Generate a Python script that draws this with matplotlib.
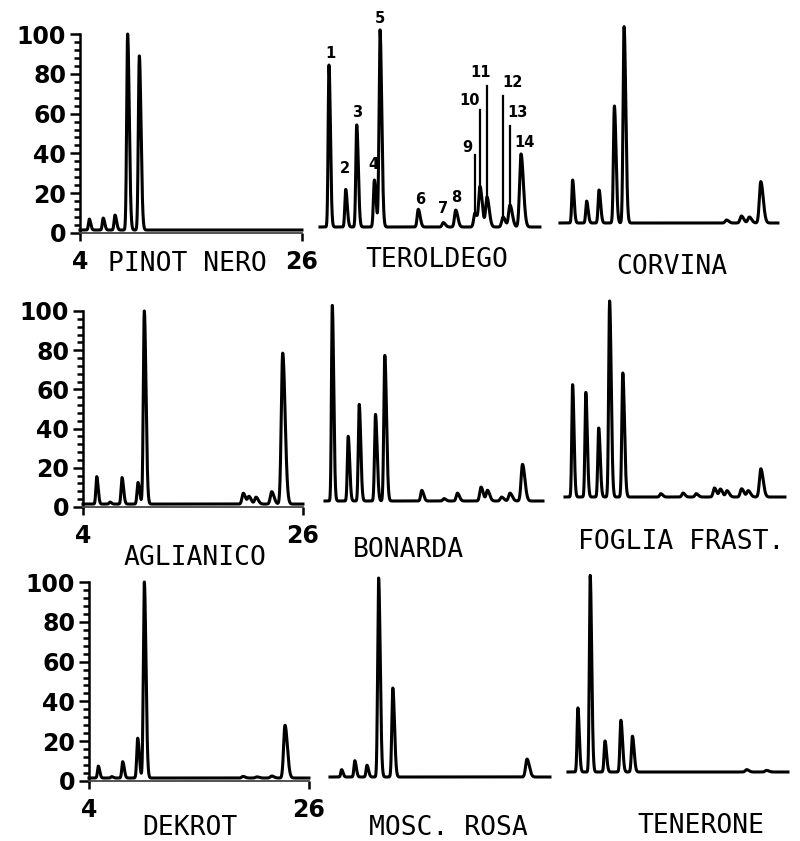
import matplotlib
matplotlib.use('Agg')
import matplotlib.pyplot as plt
import numpy as np

# retention times (min) and peak heights (% of largest peak)
names = ['PINOT NERO', 'TEROLDEGO', 'CORVINA',
         'AGLIANICO', 'BONARDA', 'FOGLIA FRAST.',
         'DEKROT', 'MOSC. ROSA', 'TENERONE']

pinot_t = [4.92, 6.30, 7.47, 8.72, 9.88]
pinot_h = [5.5, 6.0, 7.5, 98.5, 87.5]

terol_t = [4.89, 6.55, 7.64, 9.39, 9.95, 13.74, 16.22, 17.45, 19.36, 19.86, 20.55, 22.14, 22.83, 23.92]
terol_h = [81.4, 18.9, 51.3, 23.6, 99.0, 8.9, 2.2, 8.5, 7.0, 20.0, 15.0, 5.0, 11.0, 36.7]

corv_t = [5.25, 6.64, 7.87, 9.39, 10.35, 20.50, 21.98, 22.76, 23.90]
corv_h = [21.6, 11.0, 16.6, 58.8, 98.7, 1.5, 3.5, 3.0, 20.8]

agli_t = [5.37, 6.70, 7.90, 9.50, 10.13, 20.03, 20.60, 21.30, 22.87, 23.97]
agli_h = [14.0, 1.0, 13.5, 11.0, 98.5, 5.5, 3.8, 3.5, 6.3, 77.0]

bona_t = [4.73, 6.32, 7.42, 9.05, 9.98, 13.68, 15.90, 17.24, 19.60, 20.25, 21.66, 22.50, 23.75]
bona_h = [99.8, 33.0, 49.3, 44.2, 74.3, 5.4, 1.2, 4.0, 7.1, 5.4, 2.0, 4.0, 18.7]

fogl_t = [4.76, 6.08, 7.37, 8.46, 9.78, 13.58, 15.80, 17.12, 18.94, 19.54, 20.20, 21.66, 22.32, 23.58]
fogl_h = [57.3, 53.4, 35.2, 100.0, 63.3, 1.7, 2.0, 1.7, 4.6, 4.0, 3.2, 4.2, 3.2, 14.4]

dekr_t = [4.93, 6.27, 7.37, 8.87, 9.53, 19.40, 20.77, 22.27, 23.60]
dekr_h = [6.0, 0.7, 8.2, 20.0, 98.5, 0.8, 0.6, 1.0, 26.5]

mosc_t = [5.16, 6.48, 7.70, 8.86, 10.28, 23.70]
mosc_h = [3.7, 8.2, 5.9, 100.0, 44.7, 9.0]

tene_t = [4.99, 6.22, 7.70, 9.29, 10.44, 21.86, 23.85]
tene_h = [32.2, 98.8, 15.6, 26.0, 18.0, 1.2, 0.8]

peak_t = [pinot_t, terol_t, corv_t, agli_t, bona_t, fogl_t, dekr_t, mosc_t, tene_t]
peak_h = [pinot_h, terol_h, corv_h, agli_h, bona_h, fogl_h, dekr_h, mosc_h, tene_h]
t_end = [26.0, 25.8, 25.6, 26.0, 25.8, 26.0, 26.0, 26.0, 26.0]
base = [1.5, 0, 0, 1.5, 0, 0, 1.5, 0, 0]

# Teroldego peak numbering
terol_lab = [str(i) for i in range(1, 15)]
terol_lab_t = [4.99, 6.48, 7.67, 9.25, 9.95, 13.91, 16.19, 17.48, 18.60, 18.87, 19.96, 23.08, 23.57, 24.30]
terol_lab_y = [87.4, 29.6, 57.3, 31.2, 105.0, 13.6, 9.5, 15.0, 40.2, 63.8, 77.4, 72.4, 57.3, 42.7]
# leader lines: peak index, top of line (%)
lead_idx = [8, 9, 10, 11, 12]
lead_top = [36.0, 59.0, 71.0, 66.0, 51.0]

yticks = [0, 20, 40, 60, 80, 100]

W, H = 800, 841
fig = plt.figure(figsize=(8, 8.41), dpi=100)

# panel frames in pixels: x of t=4, px per min, y of baseline, px per %
frames = [(80, 10.09, 233, 1.99), (320, 10.09, 227, 1.99), (560, 10.09, 223, 1.99),
          (83, 10.0, 507, 1.96), (325, 10.0, 501, 1.96), (565, 10.0, 497, 1.96),
          (89, 10.0, 781, 1.99), (330, 10.0, 777, 1.99), (568, 10.0, 772, 1.99)]
# name labels: centre x, baseline y (pixels)
name_pos = [(187, 271), (437, 267), (672, 274),
            (195, 565), (408, 557), (681, 549),
            (190, 835), (448, 835), (701, 833)]


def trace(t, pt, ph):
    y = np.zeros_like(t)
    for tc, hc in zip(pt, ph):
        sl = 0.08 + 0.003 * (tc - 4)
        s = np.where(t < tc, sl, 1.7 * sl)
        y += hc * np.exp(-0.5 * ((t - tc) / s) ** 2)
    return y


for i in range(9):
    x0, sx, yb, sy = frames[i]
    ax = fig.add_axes([x0 / W, 1 - yb / H, 22 * sx / W, 100 * sy / H])
    ax.set_xlim(4, 26)
    ax.set_ylim(0, 100)
    t = np.arange(4, t_end[i], 0.004)
    ax.plot(t, base[i] + trace(t, peak_t[i], peak_h[i]), color='black', lw=2.2,
            clip_on=False, solid_joinstyle='round')

    if i % 3 == 0:
        ax.spines['top'].set_visible(False)
        ax.spines['right'].set_visible(False)
        ax.spines['left'].set_linewidth(1.8)
        ax.spines['bottom'].set_linewidth(1.3)
        ax.spines['bottom'].set_color('#444444')
        ax.set_yticks(yticks)
        ax.set_yticks(np.arange(0, 101, 4), minor=True)
        ax.set_yticklabels([str(v) for v in yticks], fontfamily='DejaVu Sans',
                           fontweight='bold', fontsize=17)
        ax.set_xticks([4, 26])
        ax.set_xticklabels(['4', '26'], fontfamily='DejaVu Sans',
                           fontweight='bold', fontsize=17)
        ax.tick_params(axis='y', which='major', length=7, width=1.8, pad=3)
        ax.tick_params(axis='y', which='minor', length=4, width=1.8)
        ax.tick_params(axis='x', which='major', length=6, width=1.8, pad=6)
        ax.patch.set_visible(False)
    else:
        ax.axis('off')

    if i == 1:
        for lab, lt, ly in zip(terol_lab, terol_lab_t, terol_lab_y):
            ax.text(lt, ly, lab, ha='center', va='center', fontsize=10.5,
                    fontweight='bold', fontfamily='DejaVu Sans', clip_on=False)
        for k, top in zip(lead_idx, lead_top):
            tk = terol_t[k]
            yk = base[i] + trace(np.array([tk]), peak_t[i], peak_h[i])[0]
            ax.plot([tk, tk], [yk, top], color='black', lw=1.6, clip_on=False)

    cx, cy = name_pos[i]
    fig.text(cx / W, 1 - cy / H, names[i], ha='center', va='baseline',
             fontsize=19, fontfamily='DejaVu Sans Mono')

fig.savefig('out.png', dpi=100, facecolor='white')
